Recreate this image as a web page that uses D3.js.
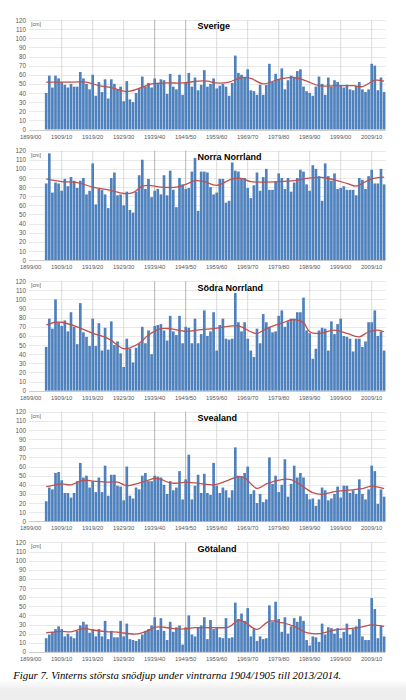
<!DOCTYPE html>
<html><head><meta charset="utf-8">
<script src="https://cdn.jsdelivr.net/npm/d3@7"></script>
<style>html,body{margin:0;padding:0;background:#fff;}svg{display:block;}</style>
</head><body>
<svg id="c" width="406" height="700"></svg>
<script>
// ---- DATA ----
const firstAxisYear = 1899;   // axis starts at 1899/00
const lastAxisYear = 2013;    // axis ends at 2013/14
const firstDataYear = 1904;   // data 1904/05 .. 2013/14
const tickLabels = ["1899/00","1909/10","1919/20","1929/30","1939/40","1949/50","1959/60","1969/70","1979/80","1989/90","1999/00","2009/10"];
const yTicks = [0,10,20,30,40,50,60,70,80,90,100,110,120];
const regions = ["Sverige","Norra Norrland","Södra Norrland","Svealand","Götaland"];

const sverige = [40,59,46,59,56, 52,49,46,50,47, 47,63,56,50,44, 60,37,52,41,55, 34,55,50,44,47, 31,53,33,30,40,
  45,58,47,51,46, 56,51,55,54,39, 61,47,44,60,38, 51,62,47,57,43, 49,65,47,50,56, 45,48,50,47,37,
  51,81,62,60,57, 66,43,42,38,49, 38,49,72,52,61, 55,67,44,54,59, 57,64,66,47,42, 40,37,47,58,50,
  38,57,47,54,52, 48,46,49,44,43, 48,52,44,41,44, 72,70,43,57,41];
const norraNorrland = [84,117,74,85,84, 76,89,81,91,87, 79,87,90,72,76, 106,61,78,77,72, 57,90,96,71,72, 60,75,55,52,75,
  93,110,78,89,69, 76,78,72,93,71, 98,77,58,90,83, 78,79,97,112,54, 97,97,96,80,72, 74,89,89,63,65,
  107,98,97,90,90, 79,68,82,96,76, 91,100,77,77,86, 95,90,78,90,75, 85,90,99,97,83, 76,104,100,92,65,
  106,92,87,95,78, 79,81,77,77,77, 71,90,88,78,92, 99,84,84,100,83];
const sodraNorrland = [48,79,68,100,75, 71,77,65,86,70, 51,96,64,59,49, 79,49,74,44,69, 45,76,50,54,41, 26,57,46,31,47,
  52,70,52,66,40, 71,72,73,66,55, 82,65,61,82,52, 70,69,52,79,52, 62,88,60,65,86, 44,72,79,57,56,
  57,107,75,65,75, 57,44,37,68,52, 84,75,70,64,65, 82,88,70,76,79, 79,86,86,102,66, 63,35,46,66,69,
  68,44,76,62,73, 79,60,59,57,43, 57,57,48,54,75, 75,88,60,65,44];
const svealand = [22,37,35,53,54, 45,31,31,26,31, 44,64,48,50,37, 44,32,48,32,61, 28,51,51,39,38, 23,60,28,25,37,
  35,50,53,44,44, 50,49,48,40,30, 44,34,37,55,24, 46,73,24,39,51, 31,52,31,29,64, 39,31,37,34,26,
  34,81,50,49,53, 60,30,34,20,30, 21,24,70,41,50, 32,40,68,27,41, 61,48,53,48,30, 24,25,17,24,37,
  34,23,25,30,38, 26,39,39,31,34, 30,46,30,24,35, 61,55,19,35,27];
const gotaland = [15,19,22,25,28, 25,17,20,17,15, 23,29,33,30,21, 25,17,25,17,34, 14,23,16,16,34, 17,31,14,13,12,
  14,19,23,25,29, 38,24,37,23,13, 33,22,27,29,8, 27,40,19,17,27, 29,38,14,35,25, 27,16,15,37,15,
  16,54,36,42,34, 48,17,25,12,17, 14,15,51,33,55, 36,22,38,20,28, 37,33,39,34,13, 7,17,16,11,31,
  19,27,26,20,26, 15,22,31,19,25, 28,36,17,13,13, 59,47,15,29,17];

// trend curves: [season start year, cm]
const sverigeTrend = [[1904,52],[1908,52],[1913,52],[1917,52],[1921,48],[1925,46],[1929,42],[1931,42],[1934,45],[1938,50],[1943,51],[1948,51],[1953,53],[1956,53],[1959,51],[1963,52],[1967,57],[1970,56],[1974,50],[1979,55],[1984,57],[1988,53],[1992,48],[1998,48],[2003,48],[2006,47],[2010,54],[2013,53]];
const norraTrend = [[1904,89],[1909,86],[1914,85],[1919,80],[1924,77],[1929,73],[1932,74],[1935,81],[1937,82],[1941,80],[1946,80],[1949,83],[1952,87],[1955,86],[1959,82],[1964,89],[1967,89.5],[1970,86],[1979,86],[1984,87],[1988,89.5],[1993,90.5],[1997,88],[2001,84],[2004,81],[2006,84],[2009,89],[2013,91]];
const sodraTrend = [[1904,72],[1907,75],[1909,75],[1914,70],[1919,63],[1924,57],[1929,46],[1931,47],[1934,52],[1937,61],[1941,68],[1944,68],[1949,65],[1954,67],[1958,68],[1966,71],[1970,64.6],[1972,62.7],[1975,68],[1980,74],[1984,78],[1987,74.6],[1989,64.6],[1992,62.7],[1997,66.4],[2001,62.7],[2005,59],[2008,64.6],[2011,66.4],[2013,64.6]];
const sveaTrend = [[1904,38],[1907,40],[1909,41],[1912,40],[1915,44],[1917,45],[1919,44],[1924,43],[1927,43],[1930,39],[1933,41],[1937,45],[1939,47],[1941,46],[1944,42],[1947,42],[1949,43],[1952,42],[1958,40],[1962,44],[1966,49],[1968,47.5],[1972,36],[1975,41],[1980,45.7],[1983,45.7],[1986,40],[1990,31.4],[1993,29.6],[1997,32.5],[2001,34],[2006,35.7],[2009,38.6],[2013,35.7]];
const gotaTrend = [[1904,21],[1907,22],[1909,22.5],[1912,22],[1915,25],[1917,25.5],[1919,24],[1924,22],[1927,21.7],[1929,20.7],[1932,19.6],[1934,20],[1937,23.5],[1939,27],[1942,27],[1944,26],[1947,25],[1949,25.5],[1952,26.5],[1958,26.5],[1963,27.5],[1966,34.8],[1968,32.6],[1972,24.7],[1976,33.7],[1980,32],[1984,28],[1988,21],[1992,20],[1997,24],[2002,25.4],[2006,27.5],[2009,29.7],[2013,28]];

const caption = "Figur 7. Vinterns största snödjup under vintrarna 1904/1905 till 2013/2014.";

// ---- BUILD ----
const pad2 = n => String(n % 100).padStart(2, "0");
const seasonLabel = y => y + "/" + pad2(y + 1);
const seasons = d3.range(firstAxisYear, lastAxisYear + 1).map(seasonLabel);
const panels = [
  {name: regions[0], values: sverige, trend: sverigeTrend},
  {name: regions[1], values: norraNorrland, trend: norraTrend},
  {name: regions[2], values: sodraNorrland, trend: sodraTrend},
  {name: regions[3], values: svealand, trend: sveaTrend},
  {name: regions[4], values: gotaland, trend: gotaTrend}
];

const svg = d3.select("#c");
const FONT = "'Liberation Sans', Arial, sans-serif";
const barColor = "#4f81bd", trendColor = "#c0504d";

const x = d3.scaleBand().domain(seasons).range([29.15, 385.65]).paddingInner(0.14).paddingOuter(0.07);
const xc = s => x(s) + x.bandwidth() / 2;

// bottom shade
const defs = svg.append("defs");
const lg = defs.append("linearGradient").attr("id","shade").attr("x1",0).attr("y1",0).attr("x2",0).attr("y2",1);
lg.append("stop").attr("offset","0%").attr("stop-color","#ffffff");
lg.append("stop").attr("offset","45%").attr("stop-color","#efefef");
lg.append("stop").attr("offset","100%").attr("stop-color","#ededed");
svg.append("rect").attr("x",0).attr("y",680).attr("width",406).attr("height",20).attr("fill","url(#shade)");

panels.forEach((p, k) => {
  const top = 20 + k * 130.6, bottom = top + 109.5;
  const y = d3.scaleLinear().domain([0, 120]).range([bottom, top]);
  const g = svg.append("g");

  // horizontal gridlines
  g.selectAll(".hg").data(yTicks).join("line")
    .attr("x1", 29.15).attr("x2", 385.65)
    .attr("y1", d => Math.round(y(d)) + 0.5).attr("y2", d => Math.round(y(d)) + 0.5)
    .attr("stroke", d => d === 0 ? "#bfbfbf" : "#e3e3e3").attr("stroke-width", 0.8);

  // vertical gridlines at labelled seasons
  const vticks = tickLabels.slice(1);
  g.selectAll(".vg").data(vticks).join("line")
    .attr("x1", d => xc(d)).attr("x2", d => xc(d))
    .attr("y1", top).attr("y2", bottom)
    .attr("stroke", d => (d === "1939/40" || d === "1949/50") ? "#a0a0a0" : "#cfcfcf")
    .attr("stroke-width", 0.8);

  // bars
  const data = p.values.map((v, i) => ({s: seasonLabel(firstDataYear + i), v}));
  g.selectAll(".bar").data(data).join("rect")
    .attr("x", d => x(d.s)).attr("width", x.bandwidth())
    .attr("y", d => y(d.v)).attr("height", d => bottom - y(d.v))
    .attr("fill", barColor);

  // trend
  const line = d3.line().x(d => xc(seasonLabel(d[0]))).y(d => y(d[1])).curve(d3.curveCatmullRom.alpha(0.5));
  g.append("path").datum(p.trend).attr("d", line)
    .attr("fill", "none").attr("stroke", trendColor).attr("stroke-width", 1.3);

  // y axis labels
  const yAxis = d3.axisLeft(y).tickValues(yTicks).tickSize(0).tickPadding(3);
  const ya = g.append("g").attr("transform", "translate(29,0)").call(yAxis);
  ya.select(".domain").remove();
  ya.selectAll("text").attr("font-family", FONT).attr("font-size", 6.3).attr("fill", "#595959");

  // x axis labels
  const xAxis = d3.axisBottom(x).tickValues(tickLabels).tickSize(0).tickPadding(5);
  const xa = g.append("g").attr("transform", `translate(0,${bottom})`).call(xAxis);
  xa.select(".domain").remove();
  xa.selectAll("text").attr("font-family", FONT).attr("font-size", 5.9).attr("fill", "#595959");

  // unit
  g.append("text").attr("x", 31).attr("y", top + 6).text("[cm]")
    .attr("font-family", FONT).attr("font-size", 5.3).attr("fill", "#595959");

  // title
  g.append("text").attr("x", 197.5).attr("y", top + 9.3).text(p.name)
    .attr("font-family", FONT).attr("font-weight", "bold").attr("font-size", 9).attr("fill", "#000");
});

svg.append("text").attr("x", 13.3).attr("y", 678.5).text(caption)
  .attr("font-family", "'Liberation Serif', 'Times New Roman', serif").attr("font-style", "italic")
  .attr("font-size", 10.5).attr("fill", "#000")
  .attr("textLength", 328).attr("lengthAdjust", "spacingAndGlyphs");
</script>
</body></html>
